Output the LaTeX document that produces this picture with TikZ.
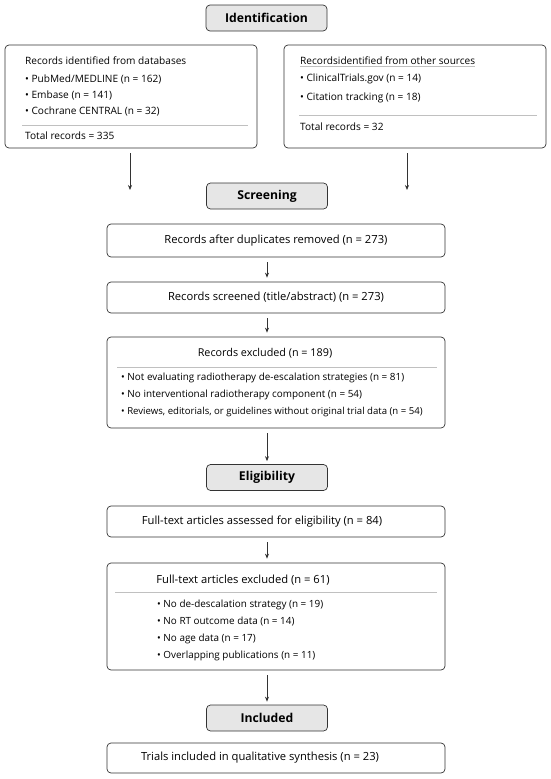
\documentclass[tikz,border=0pt]{standalone}
\usepackage{fontspec}
\setmainfont{Open Sans}
\usetikzlibrary{arrows.meta,calc}
\definecolor{ln}{HTML}{333333}
\definecolor{hdr}{HTML}{E6E6E6}
\definecolor{sep}{HTML}{C0C0C0}
\tikzset{
  box/.style={draw=ln, line width=0.7pt, rounded corners=4pt, inner sep=0pt},
  hdrbox/.style={box, fill=hdr, minimum width=121pt, minimum height=26pt, font=\fontsize{12.2}{14}\selectfont\bfseries},
  wide/.style={box, minimum width=338pt},
  txt/.style={inner sep=0pt, anchor=west, font=\fontsize{10.1}{12}\selectfont},
  stxt/.style={inner sep=0pt, anchor=west, font=\fontsize{9.9}{12}\selectfont},
  mtxt/.style={inner sep=0pt, font=\fontsize{11.2}{13}\selectfont},
  arr/.style={draw=ln, line width=0.7pt, -{Stealth[length=5pt,width=4pt]}},
  sepl/.style={draw=sep, line width=0.6pt}
}
\begin{document}
\begin{tikzpicture}[x=1pt,y=-1pt]
\useasboundingbox (0,0) rectangle (550,779);
% headers
\node[hdrbox] (hid) at (266.5,18) {Identification};
\node[hdrbox] (hsc) at (267,196) {Screening};
\node[hdrbox] (hel) at (267,477.5) {Eligibility};
\node[hdrbox] (hin) at (267,718) {Included};
% left identification box
\node[box, minimum width=252pt, minimum height=103pt] (db) at (131,96.5) {};
\node[txt] (db0) at (25,61) {Records identified from databases};
\node[txt] (db1) at (25,79) {• PubMed/MEDLINE (n = 162)};
\node[txt] (db2) at (25,95) {• Embase (n = 141)};
\node[txt] (db3) at (25,111) {• Cochrane CENTRAL (n = 32)};
\draw[sepl] (22,125) -- (248,125);
\node[txt] (db4) at (25,136) {Total records = 335};
% right identification box
\node[box, minimum width=262pt, minimum height=103pt] (os) at (415,96.5) {};
\node[txt] (os0) at (300,61) {Recordsidentified from other sources};
\draw[sepl] (os0.south west) ++(0,1.5) -- ($(os0.south east)+(0,1.5)$);
\node[txt] (os1) at (300,79) {• ClinicalTrials.gov (n = 14)};
\node[txt] (os2) at (300,98) {• Citation tracking (n = 18)};
\draw[sepl] (299,115) -- (537,115);
\node[txt] (os3) at (300,127) {Total records = 32};
% arrows from identification
\coordinate (la) at (130,190);
\coordinate (ra) at (407,190);
\draw[arr] (db.south -| la) ++(0,5) -- (la);
\draw[arr] (os.south -| ra) ++(0,5) -- (ra);
% screening boxes
\node[wide, minimum height=33pt, mtxt] (dup) at (276,240.5) {Records after duplicates removed (n = 273)};
\node[wide, minimum height=31pt, mtxt] (scr) at (276,297.5) {Records screened (title/abstract) (n = 273)};
\draw[arr] ($(dup.south)+(-9,0)$) ++(0,5) -- ($(scr.north)+(-9,-4)$);
\node[wide, minimum height=91pt] (exc) at (276,382.5) {};
\node[mtxt, font=\fontsize{10.8}{13}\selectfont] (exc0) at (265,353) {Records excluded (n = 189)};
\draw[sepl] (117,367) -- (437,367);
\node[stxt] (exc1) at (121,377.5) {• Not evaluating radiotherapy de-escalation strategies (n = 81)};
\node[stxt] (exc2) at (121,395) {• No interventional radiotherapy component (n = 54)};
\node[stxt, font=\fontsize{9.6}{12}\selectfont] (exc3) at (121,412) {• Reviews, editorials, or guidelines without original trial data (n = 54)};
\draw[arr] ($(scr.south)+(-9,0)$) ++(0,5) -- ($(exc.north)+(-9,-4)$);
\draw[arr] ($(exc.south)+(-9,0)$) ++(0,5) -- ($(hel.north)+(0,-3)$);
% eligibility
\node[wide, minimum height=31pt] (fta) at (276,521.5) {};
\node[mtxt] (fta0) at (262,521.5) {Full-text articles assessed for eligibility (n = 84)};
\node[wide, minimum height=107pt] (fte) at (276,616.5) {};
\node[mtxt] (fte0) at (243,580) {Full-text articles excluded (n = 61)};
\draw[sepl] (115,592) -- (437,592);
\node[stxt] (fte1) at (157,605) {• No de-descalation strategy (n = 19)};
\node[stxt] (fte2) at (157,622) {• No RT outcome data (n = 14)};
\node[stxt] (fte3) at (157,639) {• No age data (n = 17)};
\node[stxt] (fte4) at (157,656) {• Overlapping publications (n = 11)};
\draw[arr] ($(fta.south)+(-9,0)$) ++(0,5) -- ($(fte.north)+(-9,-4)$);
\draw[arr] ($(fte.south)+(-9,0)$) ++(0,5) -- ($(hin.north)+(0,-3)$);
% included
\node[wide, minimum height=30pt] (tri) at (276,758) {};
\node[mtxt] (tri0) at (260,758) {Trials included in qualitative synthesis (n = 23)};
\end{tikzpicture}
\end{document}
